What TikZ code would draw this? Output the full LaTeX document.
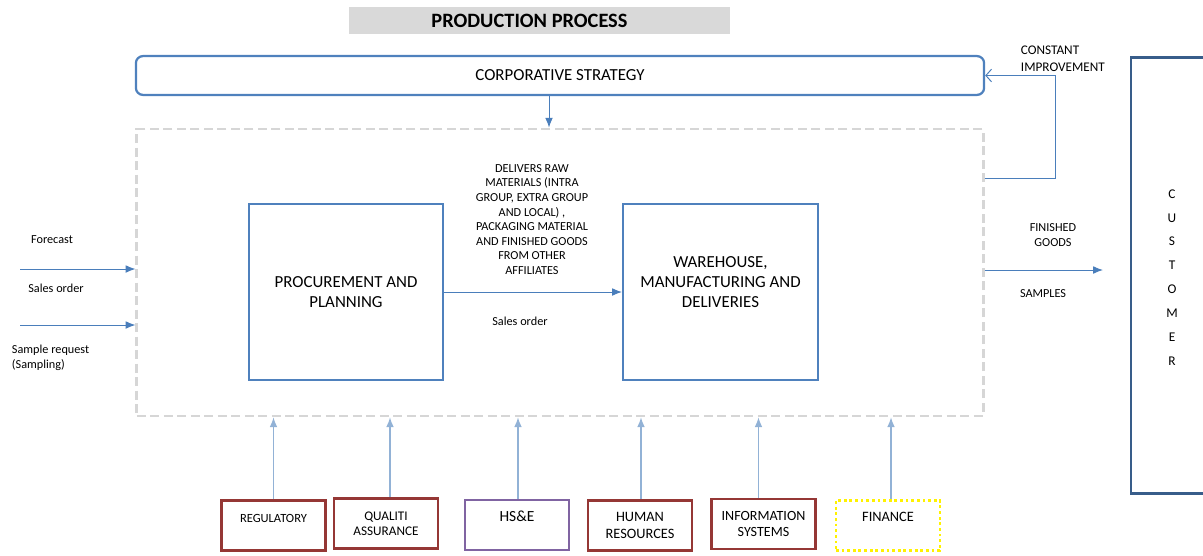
\documentclass[tikz,border=0pt]{standalone}
\usepackage{fontspec}
\setmainfont{Carlito}
\usetikzlibrary{arrows.meta,positioning}
\definecolor{boxblue}{HTML}{4F81BD}
\definecolor{flowblue}{HTML}{4A7EBB}
\definecolor{custblue}{HTML}{385D8A}
\definecolor{supred}{HTML}{953735}
\definecolor{suppurple}{HTML}{8064A2}
\definecolor{framegray}{HTML}{D6D6D6}
\tikzset{
  smalltxt/.style={font=\fontsize{8.7}{10.4}\selectfont,align=center},
  mainbox/.style={draw=boxblue,line width=1.6pt,align=center,font=\fontsize{12}{14}\selectfont},
  supbox/.style={draw=supred,line width=2pt,minimum width=2.6cm,minimum height=1.25cm,align=center,font=\fontsize{8.9}{10}\selectfont},
  flow/.style={draw=flowblue,line width=0.7pt,-{Latex[length=7pt,width=5.5pt]}},
  upflow/.style={draw=flowblue!60,line width=0.8pt,-{Latex[length=7pt,width=5.5pt]}}
}
\begin{document}
\begin{tikzpicture}[x=0.025cm,y=-0.025cm]
\useasboundingbox (0,0) rectangle (1203,555);
\clip (0,0) rectangle (1203,555);
% title
\node[fill=black!15,minimum width=9.5cm,minimum height=0.67cm,font=\fontsize{14.5}{16}\bfseries] (title) at (539.5,20.5) {\hspace*{-0.5cm}PRODUCTION PROCESS};
% strategy and frame
\node[mainbox,rounded corners=5pt,minimum width=21.2cm,minimum height=0.97cm] (strat) at (560,75.5) {CORPORATIVE STRATEGY};
\node[draw=framegray,dash pattern=on 6.4pt off 3.2pt,line width=2pt,minimum width=21.15cm,minimum height=7.17cm] (frame) at (560,272.5) {};
\coordinate (sd) at (549,0);
\draw[flow] (strat.south -| sd) -- (frame.north -| sd);
% main boxes
\node[mainbox,minimum width=4.85cm,minimum height=4.4cm] (proc) at (346,292) {PROCUREMENT AND\\PLANNING};
\node[mainbox,minimum width=4.87cm,minimum height=4.4cm] (ware) at (720.5,292) {WAREHOUSE,\\MANUFACTURING AND\\DELIVERIES\\\mbox{}};
\draw[flow] (proc.east) -- (ware.west);
\node[smalltxt] (deliv) at (532,219.5) {DELIVERS RAW\\MATERIALS (INTRA\\GROUP, EXTRA GROUP\\AND LOCAL) ,\\PACKAGING MATERIAL\\AND FINISHED GOODS\\FROM OTHER\\AFFILIATES};
\node[smalltxt] (so2) at (520,321) {Sales order};
% inputs
\node[smalltxt] (fc) at (52,240) {Forecast};
\node[smalltxt] (so1) at (56,288) {Sales order};
\node[smalltxt,align=left,anchor=west] (sr) at (7,358) {Sample request\\(Sampling)};
\coordinate (in1) at (20,269);
\coordinate (in2) at (20,325);
\draw[flow] (in1) -- (in1 -| frame.west);
\draw[flow] (in2) -- (in2 -| frame.west);
% outputs
\node[smalltxt] (fg) at (1053,235) {FINISHED\\GOODS};
\node[smalltxt] (smp) at (1043,294) {SAMPLES};
\coordinate (out) at (1103,270);
\draw[flow] (frame.east |- out) -- (out);
% feedback
\coordinate (fb) at (1055,178);
\draw[draw=flowblue,line width=0.7pt,-{Straight Barb[length=4pt,width=9pt]}] (frame.east |- fb) -- (fb) |- (strat.east);
\node[smalltxt,align=left,anchor=west,font=\fontsize{9.4}{12}\selectfont] (ci) at (1016,58.5) {CONSTANT\\IMPROVEMENT};
% customer
\node[draw=custblue,line width=2pt,minimum width=2.1cm,minimum height=10.9cm] (cust) at (1173,275.5) {};
\node[align=center,font=\fontsize{9.5}{17}\selectfont] (custtxt) at (1172,277.5) {C\\U\\S\\T\\O\\M\\E\\R};
% support functions
\node[supbox] (reg) at (273.5,525.5) {REGULATORY\\\mbox{}};
\node[supbox,font=\fontsize{9.4}{11}\selectfont] (qa) at (386,523.5) {QUALITI\\ASSURANCE};
\node[supbox,draw=suppurple,font=\fontsize{11}{12}\selectfont] (hse) at (517,525) {HS\&E\\\mbox{}};
\node[supbox,font=\fontsize{10.2}{12.5}\selectfont] (hr) at (640,525.5) {HUMAN\\RESOURCES};
\node[supbox,font=\fontsize{10}{12}\selectfont] (is) at (763.5,524) {INFORMATION\\SYSTEMS};
\node[supbox,draw=yellow,dotted,line width=2pt,font=\fontsize{10.2}{12}\selectfont] (fin) at (888,525.5) {FINANCE\\\mbox{}};
\foreach \s/\d in {reg/0,qa/4,hse/1,hr/1,is/-5,fin/3}
  \draw[upflow] ([xshift=\d*0.025cm]\s.north) -- ([xshift=\d*0.025cm]\s.north |- frame.south);
\end{tikzpicture}
\end{document}
